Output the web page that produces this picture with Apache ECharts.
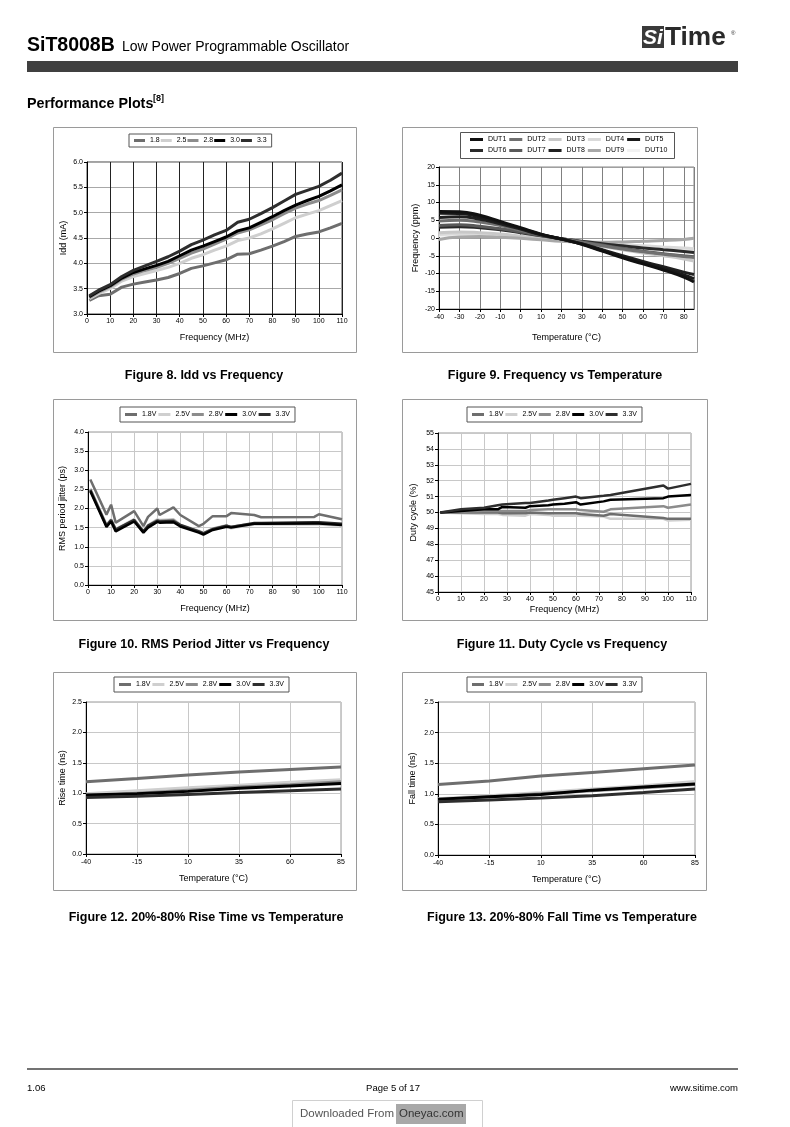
<!DOCTYPE html>
<html>
<head>
<meta charset="utf-8">
<script src="https://cdn.jsdelivr.net/npm/echarts@6/dist/echarts.min.js"></script>
<style>
html,body{margin:0;padding:0;background:#fff;}
#page{width:790px;height:1127px;}
</style>
</head>
<body>
<div id="page"></div>
<script>
// ---------- DATA ----------
// Figure 8: Idd vs Frequency
const iddFreq = [1,5,10,15,20,25,30,35,40,45,50,55,60,65,70,75,80,85,90,95,100,105,110];
const iddNames = ['1.8','2.5','2.8','3.0','3.3'];
const idd18 = [3.27,3.36,3.39,3.53,3.59,3.63,3.67,3.72,3.80,3.90,3.95,4.01,4.07,4.18,4.19,4.26,4.34,4.43,4.53,4.58,4.62,4.70,4.79];
const idd25 = [3.30,3.40,3.50,3.65,3.74,3.80,3.86,3.92,4.00,4.10,4.17,4.26,4.34,4.45,4.50,4.58,4.68,4.79,4.90,4.97,5.04,5.14,5.24];
const idd28 = [3.32,3.43,3.54,3.69,3.79,3.86,3.92,4.00,4.10,4.20,4.28,4.38,4.48,4.60,4.66,4.76,4.86,4.98,5.09,5.17,5.24,5.34,5.45];
const idd30 = [3.34,3.45,3.56,3.71,3.82,3.89,3.96,4.04,4.15,4.26,4.34,4.43,4.52,4.64,4.70,4.81,4.92,5.04,5.15,5.24,5.32,5.43,5.55];
const idd33 = [3.36,3.47,3.58,3.74,3.86,3.95,4.04,4.13,4.24,4.37,4.46,4.56,4.65,4.81,4.87,4.98,5.10,5.23,5.36,5.44,5.52,5.64,5.78];

// Figure 9: Frequency vs Temperature
const fvtTemp = [-40,-30,-20,-10,0,10,20,30,40,50,60,70,80,85];
const dutNames = ['DUT1','DUT2','DUT3','DUT4','DUT5','DUT6','DUT7','DUT8','DUT9','DUT10'];
const dut1  = [7.5,7.4,6.4,4.7,2.9,1.1,-0.3,-1.8,-3.7,-5.6,-7.3,-9.0,-11.0,-12.4];
const dut2  = [4.8,5.0,4.5,3.5,2.2,0.9,-0.2,-1.2,-2.2,-3.1,-3.9,-4.6,-5.2,-5.5];
const dut3  = [1.5,1.7,1.5,1.1,0.5,-0.1,-0.8,-1.5,-2.4,-3.3,-4.2,-5.0,-5.9,-6.5];
const dut4  = [1.0,1.2,1.1,0.8,0.4,-0.1,-0.6,-1.0,-1.4,-1.8,-2.2,-2.5,-2.8,-3.0];
const dut5  = [7.0,6.9,5.9,4.4,2.7,1.0,-0.3,-1.7,-3.5,-5.3,-7.0,-8.6,-10.4,-11.5];
const dut6  = [3.0,3.2,2.9,2.3,1.5,0.6,-0.2,-0.9,-1.6,-2.2,-2.8,-3.3,-3.8,-4.1];
const dut7  = [3.5,3.7,3.3,2.6,1.7,0.7,-0.2,-1.1,-2.0,-2.9,-3.7,-4.4,-5.0,-5.3];
const dut8  = [5.8,6.0,5.3,4.0,2.5,0.9,-0.3,-1.6,-3.3,-5.0,-6.6,-8.1,-9.6,-10.3];
const dut9  = [-0.4,0.3,0.4,0.2,-0.1,-0.5,-0.9,-1.1,-1.2,-1.1,-0.9,-0.7,-0.4,-0.1];
const dut10 = [0.6,0.8,0.7,0.4,0.0,-0.4,-0.9,-1.3,-1.8,-2.2,-2.6,-3.0,-3.3,-3.5];

// Figure 10: RMS Period Jitter vs Frequency
const jitFreq = [1,8,10,12,20,24,26,30,31,37,40,48,50,54,60,62,72,75,98,100,110];
const vNames = ['1.8V','2.5V','2.8V','3.0V','3.3V'];
const jit18 = [2.76,1.84,2.10,1.63,1.93,1.54,1.78,2.00,1.83,2.03,1.83,1.54,1.60,1.80,1.80,1.88,1.83,1.77,1.78,1.85,1.72];
const jit25 = [2.52,1.58,1.72,1.47,1.72,1.42,1.57,1.72,1.70,1.72,1.58,1.42,1.37,1.48,1.56,1.48,1.58,1.58,1.58,1.58,1.55];
const jit28 = [2.50,1.56,1.70,1.45,1.70,1.40,1.55,1.70,1.68,1.70,1.56,1.40,1.35,1.47,1.55,1.52,1.61,1.61,1.62,1.62,1.58];
const jit30 = [2.45,1.52,1.66,1.40,1.66,1.37,1.50,1.65,1.63,1.64,1.53,1.37,1.32,1.44,1.52,1.50,1.60,1.60,1.61,1.61,1.57];
const jit33 = [2.48,1.55,1.70,1.45,1.70,1.40,1.55,1.68,1.66,1.67,1.57,1.40,1.35,1.46,1.55,1.52,1.62,1.62,1.64,1.64,1.60];

// Figure 11: Duty Cycle vs Frequency
const dutyFreq = [1,10,20,26,28,38,40,48,50,55,60,62,72,75,98,100,110];
const duty18 = [50.0,50.0,50.0,50.0,49.95,49.95,50.0,49.95,49.95,49.95,49.95,49.9,49.8,49.9,49.65,49.6,49.6];
const duty25 = [50.0,49.95,49.9,49.9,49.85,49.8,49.9,49.85,49.8,49.8,49.8,49.8,49.75,49.6,49.6,49.5,49.55];
const duty28 = [50.0,50.05,50.1,50.1,50.1,50.1,50.15,50.2,50.2,50.2,50.2,50.15,50.05,50.2,50.4,50.3,50.5];
const duty30 = [50.0,50.1,50.2,50.2,50.35,50.3,50.4,50.45,50.5,50.55,50.65,50.5,50.7,50.8,50.9,51.0,51.1];
const duty33 = [50.0,50.2,50.3,50.45,50.5,50.6,50.6,50.75,50.8,50.9,51.0,50.9,51.05,51.1,51.7,51.5,51.8];

// Figure 12 / 13: Rise / Fall time vs Temperature
const tempCats = ['-40','-15','10','35','60','85'];
const rise18 = [1.19,1.24,1.30,1.35,1.39,1.43];
const rise25 = [0.99,1.04,1.09,1.13,1.18,1.22];
const rise28 = [0.95,1.00,1.05,1.10,1.14,1.19];
const rise30 = [0.97,0.99,1.03,1.08,1.12,1.16];
const rise33 = [0.93,0.95,0.98,1.01,1.04,1.07];
const fall18 = [1.15,1.21,1.29,1.35,1.41,1.47];
const fall25 = [0.92,0.97,1.02,1.08,1.13,1.20];
const fall28 = [0.90,0.95,1.00,1.05,1.10,1.15];
const fall30 = [0.91,0.95,0.99,1.06,1.11,1.16];
const fall33 = [0.87,0.90,0.93,0.97,1.02,1.08];

// ---------- STYLE ----------
const FONT = 'Liberation Sans, Arial, sans-serif';
const vColors = {'1.8V':'#6e6e6e','2.5V':'#cfcfcf','2.8V':'#8c8c8c','3.0V':'#000000','3.3V':'#2e2e2e'};
const iddColors = {'1.8':'#6e6e6e','2.5':'#cfcfcf','2.8':'#8c8c8c','3.0':'#000000','3.3':'#2e2e2e'};
const dutColors = {DUT1:'#111111',DUT2:'#707070',DUT3:'#c8c8c8',DUT4:'#dadada',DUT5:'#1a1a1a',
                   DUT6:'#2a2a2a',DUT7:'#5a5a5a',DUT8:'#202020',DUT9:'#a8a8a8',DUT10:'#f2f2f2'};

const zip = (xs, ys) => xs.map((x, i) => [x, ys[i]]);

function gridOf(l, t, w, h, border) {
  return {left:l, top:t, width:w, height:h, show:true, borderColor:border, borderWidth:1, backgroundColor:'#fff', containLabel:false};
}
function valAxis(gi, min, max, interval, digits, name, gap, splitColor, extra) {
  return Object.assign({
    gridIndex:gi, type:'value', min:min, max:max, interval:interval,
    axisLine:{show:true, onZero:false, lineStyle:{color:'#000', width:1}},
    axisTick:{show:true, length:3, lineStyle:{color:'#000'}},
    axisLabel:{fontSize:7, color:'#000', fontFamily:FONT, margin:4,
               formatter: v => Number(v).toFixed(digits)},
    splitLine:{show:true, lineStyle:{color:splitColor, width:1}},
    name:name, nameLocation:'middle', nameGap:gap,
    nameTextStyle:{fontSize:9, color:'#000', fontFamily:FONT}
  }, extra || {});
}
function catAxis(gi, cats, name, gap, splitColor) {
  return {
    gridIndex:gi, type:'category', data:cats, boundaryGap:false,
    axisLine:{show:true, lineStyle:{color:'#000', width:1}},
    axisTick:{show:true, length:3, interval:0, lineStyle:{color:'#000'}},
    axisLabel:{fontSize:7, color:'#000', fontFamily:FONT, margin:5, interval:0},
    splitLine:{show:true, interval:0, lineStyle:{color:splitColor, width:1}},
    name:name, nameLocation:'middle', nameGap:gap,
    nameTextStyle:{fontSize:9, color:'#000', fontFamily:FONT}
  };
}
function lineSeries(name, idx, data, color, width, smooth, z) {
  return {type:'line', name:name, xAxisIndex:idx, yAxisIndex:idx, data:data,
          symbol:'none', smooth:!!smooth, lineStyle:{color:color, width:width},
          itemStyle:{color:color}, z: z || 2, silent:true};
}
function legendOf(names, left, top, iw, gap, pad, withBorder) {
  return {data:names, left:left, top:top, orient:'horizontal', icon:'rect',
          itemWidth:iw, itemHeight:3, itemGap:gap, selectedMode:false,
          textStyle:{fontSize:7, color:'#000', fontFamily:FONT},
          padding: withBorder ? pad : 0,
          borderColor: withBorder ? '#555' : 'transparent', borderWidth: withBorder ? 1 : 0,
          backgroundColor: withBorder ? '#fff' : 'transparent'};
}

// ---------- SERIES ----------
const series = [];
// Fig 8
[['1.8',idd18],['2.5',idd25],['2.8',idd28],['3.0',idd30],['3.3',idd33]].forEach(([n, v], i) =>
  series.push(lineSeries(n, 0, zip(iddFreq, v), iddColors[n], 3, false, 2 + i)));
// Fig 9
const dutVals = {DUT1:dut1,DUT2:dut2,DUT3:dut3,DUT4:dut4,DUT5:dut5,DUT6:dut6,DUT7:dut7,DUT8:dut8,DUT9:dut9,DUT10:dut10};
['DUT10','DUT4','DUT3','DUT9','DUT6','DUT7','DUT2','DUT8','DUT5','DUT1'].forEach((n, i) =>
  series.push(lineSeries(n, 1, zip(fvtTemp, dutVals[n]), dutColors[n], 3, 0.4, 2 + i)));
// Fig 10
[['1.8V',jit18],['2.5V',jit25],['2.8V',jit28],['3.3V',jit33],['3.0V',jit30]].forEach(([n, v], i) =>
  series.push(lineSeries(n, 2, zip(jitFreq, v), vColors[n], 2.5, false, 2 + i)));
// Fig 11
[['2.5V',duty25],['1.8V',duty18],['2.8V',duty28],['3.0V',duty30],['3.3V',duty33]].forEach(([n, v], i) =>
  series.push(lineSeries(n, 3, zip(dutyFreq, v), vColors[n], 2.5, false, 2 + i)));
// Fig 12
[['1.8V',rise18],['2.5V',rise25],['2.8V',rise28],['3.0V',rise30],['3.3V',rise33]].forEach(([n, v], i) =>
  series.push(lineSeries(n, 4, v, vColors[n], 3, false, 2 + i)));
// Fig 13
[['1.8V',fall18],['2.5V',fall25],['2.8V',fall28],['3.0V',fall30],['3.3V',fall33]].forEach(([n, v], i) =>
  series.push(lineSeries(n, 5, v, vColors[n], 3, false, 2 + i)));

// ---------- PAGE GRAPHICS ----------
function txt(x, y, text, size, opts, extra) {
  return Object.assign({type:'text', x:x, y:y, silent:true, z:100,
          style:Object.assign({text:text, fontSize:size, fontFamily:FONT, fill:'#000',
                               textVerticalAlign:'middle'}, opts || {})}, extra || {});
}
function box(x, y, w, h, stroke, fill, z) {
  return {type:'rect', shape:{x:x, y:y, width:w, height:h}, silent:true, z: z === undefined ? -10 : z,
          style:{stroke:stroke, fill:fill || 'none', lineWidth:1}};
}
const graphics = [
  // header
  txt(27, 46, 'SiT8008B', 19.5, {fontWeight:'bold'}),
  txt(122, 47, 'Low Power Programmable Oscillator', 14),
  box(27, 61, 711, 11, 'none', '#404040', 1),
  box(642, 26, 22, 22, 'none', '#3a3a3a', 1),
  txt(643, 38, 'Si', 21, {fill:'#fff', fontStyle:'italic', fontWeight:'bold'}),
  txt(665, 38, 'Time', 25, {fill:'#2a2a2a', fontWeight:'bold'}, {scaleX:1.05}),
  txt(731, 33, '®', 6, {fill:'#2a2a2a'}),
  txt(27, 104, 'Performance Plots', 14.3, {fontWeight:'bold'}),
  txt(153, 99, '[8]', 9, {fontWeight:'bold'}),
  // chart frames
  box(53.5, 127.5, 303, 225, '#9a9a9a'),
  box(402.5, 127.5, 295, 225, '#9a9a9a'),
  box(53.5, 399.5, 303, 221, '#9a9a9a'),
  box(402.5, 399.5, 305, 221, '#9a9a9a'),
  box(53.5, 672.5, 303, 218, '#9a9a9a'),
  box(402.5, 672.5, 304, 218, '#9a9a9a'),
  // Fig 9 legend frame
  box(460.5, 132.5, 214, 26, '#555', 'none', 1),
  // captions
  txt(204, 376, 'Figure 8. Idd vs Frequency', 12.5, {fontWeight:'bold', textAlign:'center'}),
  txt(555, 376, 'Figure 9. Frequency vs Temperature', 12.5, {fontWeight:'bold', textAlign:'center'}),
  txt(204, 645, 'Figure 10. RMS Period Jitter vs Frequency', 12.5, {fontWeight:'bold', textAlign:'center'}),
  txt(562, 645, 'Figure 11. Duty Cycle vs Frequency', 12.5, {fontWeight:'bold', textAlign:'center'}),
  txt(206, 918, 'Figure 12. 20%-80% Rise Time vs Temperature', 12.5, {fontWeight:'bold', textAlign:'center'}),
  txt(562, 918, 'Figure 13. 20%-80% Fall Time vs Temperature', 12.5, {fontWeight:'bold', textAlign:'center'}),
  // footer
  {type:'line', shape:{x1:27, y1:1069, x2:738, y2:1069}, silent:true, style:{stroke:'#444', lineWidth:1.5}},
  txt(27, 1088, '1.06', 9.5),
  txt(393, 1088, 'Page 5 of 17', 9.5, {textAlign:'center'}),
  txt(738, 1088, 'www.sitime.com', 9.5, {textAlign:'right'}),
  box(292.5, 1100.5, 190, 30, '#d0d0d0', '#fff', 1),
  txt(300, 1114, 'Downloaded From', 11.5, {fill:'#555'}),
  box(396, 1104, 70, 20, 'none', '#a8a8a8', 2),
  txt(399, 1114, 'Oneyac.com', 11.5, {fill:'#333'})
];

// ---------- OPTION ----------
const option = {
  animation:false,
  backgroundColor:'#fff',
  textStyle:{fontFamily:FONT},
  grid:[
    gridOf(87, 162, 255, 152, '#444'),
    gridOf(439, 167, 255, 142, '#888'),
    gridOf(88, 432, 254, 153, '#999'),
    gridOf(438, 433, 253, 159, '#999'),
    gridOf(86, 702, 255, 152, '#999'),
    gridOf(438, 702, 257, 153, '#999')
  ],
  xAxis:[
    valAxis(0, 0, 110, 10, 0, 'Frequency (MHz)', 19, '#222'),
    valAxis(1, -40, 85, 10, 0, 'Temperature (°C)', 24, '#808080', {axisLabel:{fontSize:7, color:'#000', fontFamily:FONT, margin:5, showMaxLabel:false}}),
    valAxis(2, 0, 110, 10, 0, 'Frequency (MHz)', 19, '#c8c8c8'),
    valAxis(3, 0, 110, 10, 0, 'Frequency (MHz)', 13, '#c8c8c8'),
    catAxis(4, tempCats, 'Temperature (°C)', 20, '#c8c8c8'),
    catAxis(5, tempCats, 'Temperature (°C)', 20, '#c8c8c8')
  ],
  yAxis:[
    valAxis(0, 3, 6, 0.5, 1, 'Idd (mA)', 19, '#a8a8a8'),
    valAxis(1, -20, 20, 5, 0, 'Frequency (ppm)', 19, '#a0a0a0'),
    valAxis(2, 0, 4, 0.5, 1, 'RMS period jitter (ps)', 21, '#c8c8c8'),
    valAxis(3, 45, 55, 1, 0, 'Duty cycle (%)', 20, '#c8c8c8'),
    valAxis(4, 0, 2.5, 0.5, 1, 'Rise time (ns)', 19, '#c8c8c8'),
    valAxis(5, 0, 2.5, 0.5, 1, 'Fall time (ns)', 21, '#c8c8c8')
  ],
  legend:[
    legendOf(iddNames, 129, 134, 11, 1, [3,5,3,5], true),
    legendOf(dutNames.slice(0,5), 470, 136, 13, 3, 0, false),
    legendOf(dutNames.slice(5), 470, 147, 13, 3, 0, false),
    legendOf(vNames, 120, 407, 12, 2, [4,5,4,5], true),
    legendOf(vNames, 467, 407, 12, 2, [4,5,4,5], true),
    legendOf(vNames, 114, 677, 12, 2, [4,5,4,5], true),
    legendOf(vNames, 467, 677, 12, 2, [4,5,4,5], true)
  ],
  series:series,
  graphic:graphics
};

const chart = echarts.init(document.getElementById('page'), null, {renderer:'canvas', width:790, height:1127});
chart.setOption(option);
</script>
</body>
</html>
